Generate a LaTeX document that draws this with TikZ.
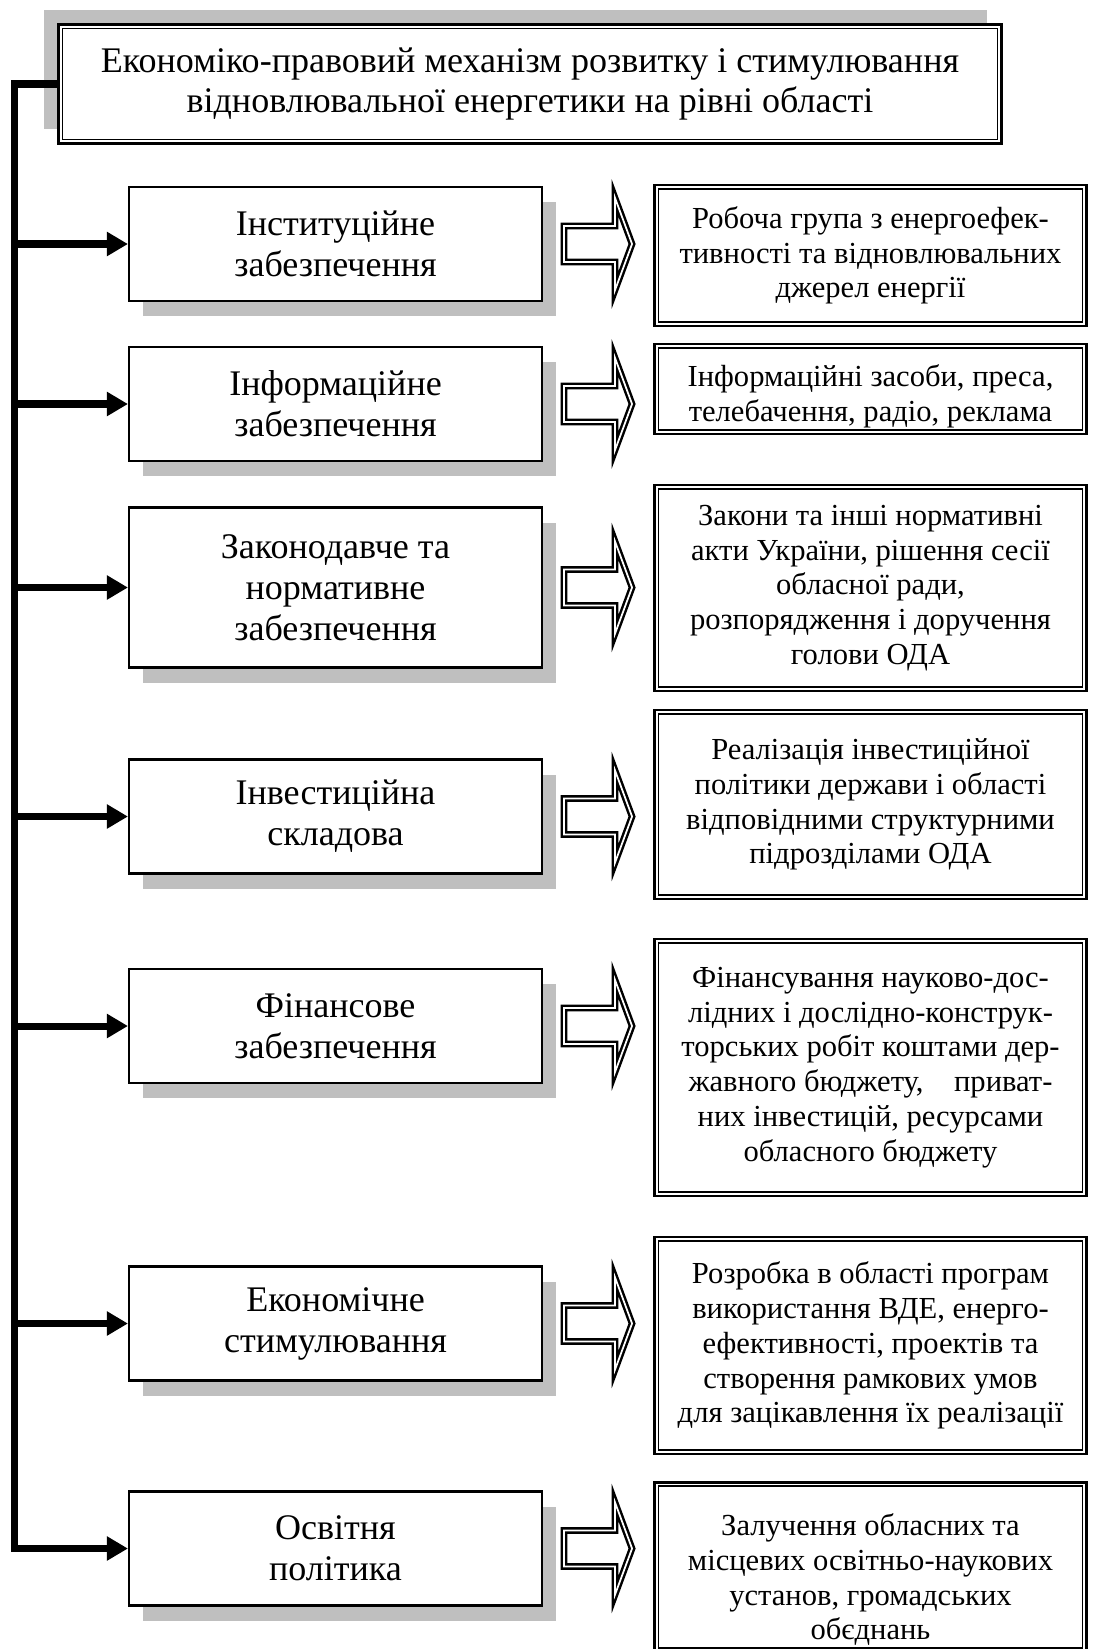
\documentclass[tikz,border=0pt]{standalone}
\usepackage{fontspec}
\setmainfont{Liberation Serif}
\usetikzlibrary{arrows.meta,shadows}

\tikzset{
  ltbox/.style={draw, line width=1.2pt, fill=white, minimum width=8.26cm,
    minimum height=2.28cm, align=center, font=\fontsize{20.5}{23.3}\selectfont,
    drop shadow={fill=black!25, opacity=1, shadow xshift=0.28cm, shadow yshift=-0.3cm}},
  rtbox/.style={draw, line width=1.5pt, fill=white, minimum width=8.64cm,
    align=center, font=\fontsize{17.4}{19.8}\selectfont},
  bus/.style={line width=4pt, line join=miter, -{Triangle[length=0.42cm, width=0.46cm]}},
  hollow/.style={draw, line width=1.4pt, double, double distance=1pt, line join=miter}
}

\begin{document}
\begin{tikzpicture}[y=-1cm]
    \useasboundingbox (0,0) rectangle (21.86,32.98);
    % заголовок
    \node[draw, line width=1.5pt, fill=white, minimum width=18.86cm, minimum height=2.38cm,
      align=center, font=\fontsize{20.5}{23.3}\selectfont,
      drop shadow={fill=black!25, opacity=1, shadow xshift=-0.3cm, shadow yshift=0.3cm}]
      (title) at (10.6,1.68) {Економіко-правовий механізм розвитку і стимулювання\\
      відновлювальної енергетики на рівні області};

    % ліва колонка
    \node[ltbox] (l1) at (6.71,4.88) {Інституційне\\забезпечення};
    \node[ltbox] (l2) at (6.71,8.08) {Інформаційне\\забезпечення};
    \node[ltbox, minimum height=3.2cm] (l3) at (6.71,11.75) {Законодавче та\\нормативне\\забезпечення};
    \node[ltbox] (l4) at (6.71,16.33) {Інвестиційна\\складова};
    \node[ltbox] (l5) at (6.71,20.52) {Фінансове\\забезпечення};
    \node[ltbox] (l6) at (6.71,26.47) {Економічне\\стимулювання};
    \node[ltbox] (l7) at (6.71,30.97) {Освітня\\політика};

    % права колонка
    \node[rtbox, minimum height=2.82cm] (r1) at (17.41,5.11)
      {Робоча група з енергоефек-\\тивності та відновлювальних\\джерел енергії};
    \node[rtbox, minimum height=1.72cm] (r2) at (17.41,7.78)
      {\rule{0pt}{21pt}Інформаційні засоби, преса,\\телебачення, радіо, реклама};
    \node[rtbox, minimum height=4.12cm] (r3) at (17.41,11.76)
      {Закони та інші нормативні\\акти України, рішення сесії\\обласної ради,\\розпорядження і доручення\\голови ОДА};
    \node[rtbox, minimum height=3.78cm] (r4) at (17.41,16.09)
      {Реалізація інвестиційної\\політики держави і області\\відповідними структурними\\підрозділами ОДА};
    \node[rtbox, minimum height=5.14cm] (r5) at (17.41,21.35)
      {Фінансування науково-дос-\\лідних і дослідно-конструк-\\торських робіт коштами дер-\\жавного бюджету,\quad приват-\\них інвестицій, ресурсами\\обласного бюджету};
    \node[rtbox, minimum height=4.34cm] (r6) at (17.41,26.91)
      {Розробка в області програм\\використання ВДЕ, енерго-\\ефективності, проектів та\\створення рамкових умов\\для зацікавлення їх реалізації};
    \node[rtbox, minimum height=3.16cm] (r7) at (17.41,31.34)
      {\rule{0pt}{27pt}Залучення обласних та\\місцевих освітньо-наукових\\установ, громадських\\обєднань};

    % внутрішня рамка
    \foreach \n in {title,r1,r2,r3,r4,r5,r6,r7}
      \draw[line width=1pt] ([shift={(3pt,3pt)}]\n.south west) rectangle ([shift={(-3pt,-3pt)}]\n.north east);

    % шина зліва
    \coordinate (bar) at (0.29,0);
    \draw[bus] (title.west) -| (bar |- l7.west) -- (l7.west);
    \foreach \n in {1,...,6}
      \draw[bus] (bar |- l\n.west) -- (l\n.west);

    % порожні стрілки
    \foreach \n in {1,...,7}
      \draw[hollow, shift={(l\n.east)}] (0.42,-0.36) -- (1.44,-0.36) -- (1.44,-0.92) -- (1.78,0)
        -- (1.44,0.92) -- (1.44,0.36) -- (0.42,0.36) -- cycle;
\end{tikzpicture}
\end{document}
